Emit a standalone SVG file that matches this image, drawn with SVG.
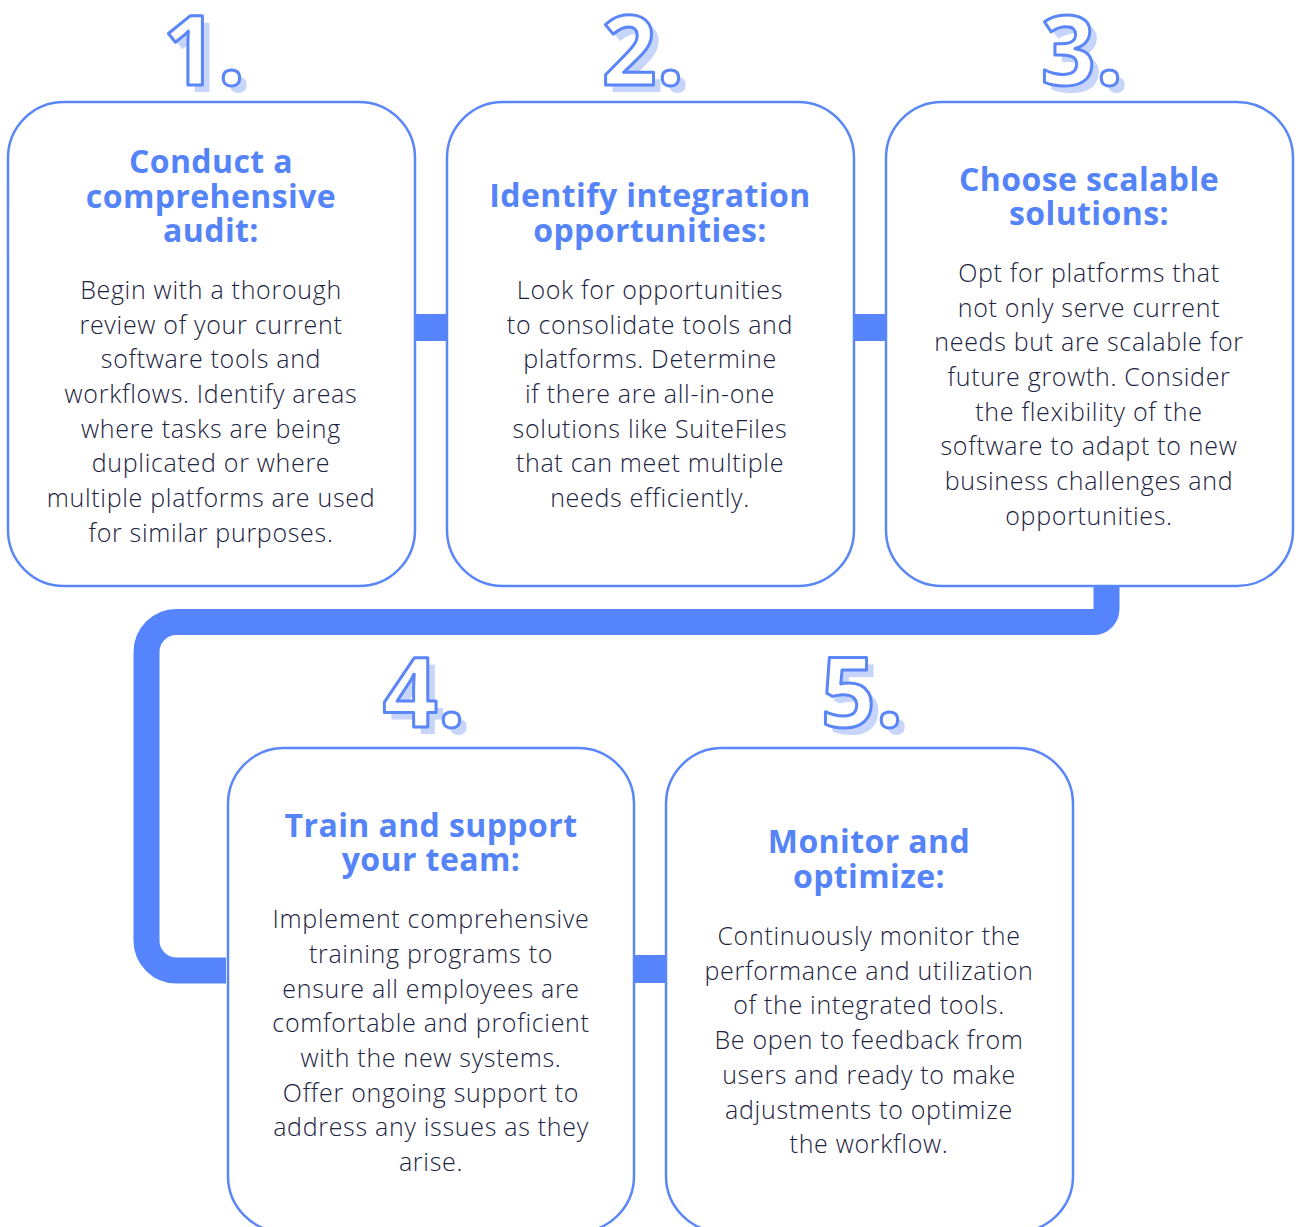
<svg xmlns="http://www.w3.org/2000/svg" width="1300" height="1227" viewBox="0 0 1300 1227">
<style>
.box{fill:#fff;stroke:#5b86f7;stroke-width:2.5}
.num{font-family:"Open Sans",sans-serif;font-size:96px;font-weight:700;text-anchor:middle}
.sh{fill:#c8d5fb}
.ol{fill:#fff;stroke:#5b86f7;stroke-width:3;stroke-linejoin:round}
.t{font-family:"Open Sans",sans-serif;font-size:32px;font-weight:700;fill:#5584f8;text-anchor:middle;letter-spacing:0.4px}
.b{font-family:"Open Sans",sans-serif;font-size:25px;font-weight:300;fill:#1b2340;text-anchor:middle;letter-spacing:0.7px}
.con{fill:none;stroke:#5584fc;stroke-width:26}
.bar{fill:#5584fc}
</style>
<g id="connectors">
<rect class="bar" x="415" y="314" width="31" height="27"/>
<rect class="bar" x="854" y="314" width="32" height="27"/>
<rect class="bar" x="634" y="955" width="31" height="28"/>
<path class="con" d="M1106.5 586 V609 A13 13 0 0 1 1093.5 622 H176.5 A30 30 0 0 0 146.5 652 V940.5 A30 30 0 0 0 176.5 970.5 H226"/>
</g>
<g id="node1">
<rect class="box" x="8" y="102" width="407" height="484" rx="56"/>
<text class="num sh" x="211" y="92">1.</text>
<text class="num ol" x="204" y="85">1.</text>
<text class="t" x="211" y="173">Conduct a</text>
<text class="t" x="211" y="208">comprehensive</text>
<text class="t" x="211" y="242">audit:</text>
<text class="b" x="211" y="299">Begin with a thorough</text>
<text class="b" x="211" y="334">review of your current</text>
<text class="b" x="211" y="368">software tools and</text>
<text class="b" x="211" y="403">workflows. Identify areas</text>
<text class="b" x="211" y="438">where tasks are being</text>
<text class="b" x="211" y="472">duplicated or where</text>
<text class="b" x="211" y="507">multiple platforms are used</text>
<text class="b" x="211" y="542">for similar purposes.</text>
</g>
<g id="node2">
<rect class="box" x="447" y="102" width="407" height="484" rx="56"/>
<text class="num sh" x="650" y="92">2.</text>
<text class="num ol" x="643" y="85">2.</text>
<text class="t" x="650" y="207">Identify integration</text>
<text class="t" x="650" y="242">opportunities:</text>
<text class="b" x="650" y="299">Look for opportunities</text>
<text class="b" x="650" y="334">to consolidate tools and</text>
<text class="b" x="650" y="368">platforms. Determine</text>
<text class="b" x="650" y="403">if there are all-in-one</text>
<text class="b" x="650" y="438">solutions like SuiteFiles</text>
<text class="b" x="650" y="472">that can meet multiple</text>
<text class="b" x="650" y="507">needs efficiently.</text>
</g>
<g id="node3">
<rect class="box" x="886" y="102" width="407" height="484" rx="56"/>
<text class="num sh" x="1089" y="92">3.</text>
<text class="num ol" x="1082" y="85">3.</text>
<text class="t" x="1089" y="191">Choose scalable</text>
<text class="t" x="1089" y="225">solutions:</text>
<text class="b" x="1089" y="282">Opt for platforms that</text>
<text class="b" x="1089" y="317">not only serve current</text>
<text class="b" x="1089" y="351">needs but are scalable for</text>
<text class="b" x="1089" y="386">future growth. Consider</text>
<text class="b" x="1089" y="421">the flexibility of the</text>
<text class="b" x="1089" y="455">software to adapt to new</text>
<text class="b" x="1089" y="490">business challenges and</text>
<text class="b" x="1089" y="525">opportunities.</text>
</g>
<g id="node4">
<rect class="box" x="228" y="748" width="406" height="484" rx="56"/>
<text class="num sh" x="431" y="734">4.</text>
<text class="num ol" x="424" y="727">4.</text>
<text class="t" x="431" y="837">Train and support</text>
<text class="t" x="431" y="871">your team:</text>
<text class="b" x="431" y="928">Implement comprehensive</text>
<text class="b" x="431" y="963">training programs to</text>
<text class="b" x="431" y="998">ensure all employees are</text>
<text class="b" x="431" y="1032">comfortable and proficient</text>
<text class="b" x="431" y="1067">with the new systems.</text>
<text class="b" x="431" y="1102">Offer ongoing support to</text>
<text class="b" x="431" y="1136">address any issues as they</text>
<text class="b" x="431" y="1171">arise.</text>
</g>
<g id="node5">
<rect class="box" x="666" y="748" width="407" height="484" rx="56"/>
<text class="num sh" x="869" y="734">5.</text>
<text class="num ol" x="862" y="727">5.</text>
<text class="t" x="869" y="853">Monitor and</text>
<text class="t" x="869" y="888">optimize:</text>
<text class="b" x="869" y="945">Continuously monitor the</text>
<text class="b" x="869" y="980">performance and utilization</text>
<text class="b" x="869" y="1014">of the integrated tools.</text>
<text class="b" x="869" y="1049">Be open to feedback from</text>
<text class="b" x="869" y="1084">users and ready to make</text>
<text class="b" x="869" y="1119">adjustments to optimize</text>
<text class="b" x="869" y="1153">the workflow.</text>
</g>
</svg>
